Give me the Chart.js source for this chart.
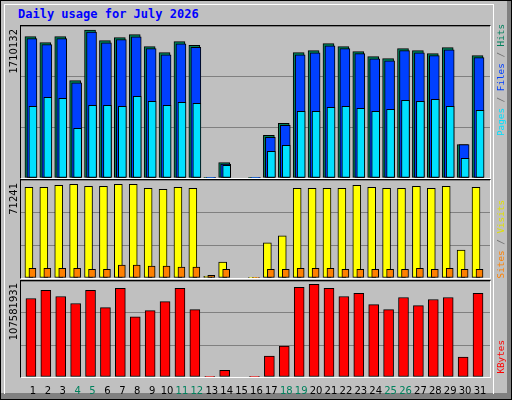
<!DOCTYPE html>
<html><head><meta charset="utf-8">
<script src="https://cdn.jsdelivr.net/npm/chart.js@4"></script>
<style>
html,body{margin:0;padding:0;background:#fff;}
#outer{position:absolute;left:0;top:0;width:512px;height:400px;background:#808080;box-sizing:border-box;border:1px solid #000;}
#face{position:absolute;left:1px;top:1px;width:506px;height:392px;background:#c0c0c0;}
#rim{position:absolute;left:4px;top:4px;width:490px;height:390px;box-sizing:border-box;border-left:1px solid #fff;border-top:1px solid #fff;border-right:1px solid #fff;}
.frame{position:absolute;box-sizing:border-box;border-top:1px solid #000;border-left:1px solid #000;border-bottom:1px solid #fff;border-right:1px solid #fff;pointer-events:none;}
.cv{position:absolute;}
.vt{position:absolute;writing-mode:vertical-rl;transform:rotate(180deg);white-space:nowrap;line-height:1;}
.lv{font-family:"DejaVu Sans";font-size:10px;color:#000;}
.rv{font-family:"DejaVu Sans Mono";font-size:9.3px;color:#707070;}
#title{position:absolute;left:18px;top:7px;font-family:"DejaVu Sans Mono";font-weight:bold;font-size:12px;color:#0000ff;}
</style></head>
<body>
<div id="outer"></div><div id="face"></div><div id="rim"></div>
<div id="title">Daily usage for July 2026</div>
<div class="cv" style="left:21px;top:26px;width:469px;height:152px"><canvas id="c1"></canvas></div>
<div class="cv" style="left:21px;top:180px;width:469px;height:98px"><canvas id="c2"></canvas></div>
<div class="cv" style="left:21px;top:281px;width:469px;height:115px"><canvas id="c3"></canvas></div>
<div class="frame" style="left:20px;top:25px;width:471px;height:154px"></div>
<div class="frame" style="left:20px;top:179px;width:471px;height:100px"></div>
<div class="frame" style="left:20px;top:280px;width:471px;height:98px"></div>
<div class="vt lv" style="left:9px;top:29px">1710132</div>
<div class="vt lv" style="left:9px;top:183px">71241</div>
<div class="vt lv" style="left:9px;top:283px">107581931</div>
<div class="vt rv" style="left:496px;top:24px"><span style="color:#00e0ff">Pages</span> / <span style="color:#0040ff">Files</span> / <span style="color:#00805c">Hits</span></div>
<div class="vt rv" style="left:496px;top:200px"><span style="color:#ff8000">Sites</span> / <span style="color:#e0e000">Visits</span></div>
<div class="vt rv" style="left:496px;top:340px"><span style="color:#ff0000">KBytes</span></div>
<script>
const days = [1,2,3,4,5,6,7,8,9,10,11,12,13,14,15,16,17,18,19,20,21,22,23,24,25,26,27,28,29,30,31];
const weekendDays = [4,5,11,12,18,19,25,26];
const hits = [1632700,1563400,1632700,1124300,1710132,1586500,1621200,1655800,1517200,1447800,1574900,1533300,8000,176800,0,8000,493400,632100,1447800,1471000,1551800,1517200,1459400,1401600,1378500,1494100,1471000,1436300,1505600,384800,1413200];
const files = [1610000,1540000,1610000,1100000,1686000,1563000,1598000,1632000,1494000,1424000,1551000,1510000,8000,161800,0,8000,470000,609000,1424000,1447000,1528000,1494000,1436000,1378000,1355000,1471000,1447000,1413000,1482000,384800,1390000];
const pages = [828500,932500,921000,574300,840000,840000,828500,944000,886300,840000,874700,863200,0,146700,0,0,308500,377900,770700,770700,817000,828500,805400,770700,793800,897800,886300,909400,828500,227600,782300];
const visits = [68930,68930,70470,71241,69700,69700,71241,71241,68170,67400,68930,68170,1300,12070,0,500,26670,32050,68170,68170,68170,68170,70470,68930,68170,68170,69700,68170,69700,21290,68930];
const sites = [7450,7450,7450,7450,6690,6690,9760,9760,8990,8990,8220,8220,2075,6690,0,300,6690,6690,7450,7450,7450,6690,6690,6690,6690,6690,7450,6690,7450,6690,6690];
const kbytes = [91160000,100540000,93500000,85300000,100540000,80600000,102900000,70000000,77100000,87600000,102900000,78250000,300000,7860000,0,300000,24300000,36000000,104100000,107581931,102900000,93500000,97000000,84100000,78250000,92300000,82900000,90000000,92300000,23100000,97000000];
const yMax1 = 1756000, yMax2 = 74545, yMax3 = 111454000;

const pxPerDay = 14.9;
function pts(vals, offPx){ return days.map((d,i)=>({x:d+offPx/pxPerDay, y:vals[i]})); }
function ds(vals, offPx, color, w, order){ return {data:pts(vals,offPx), backgroundColor:color, borderColor:'#000', borderWidth:1, borderSkipped:false, barThickness:w, grouped:false, order:order}; }
function opts(ymax, showX){
  return {responsive:true, maintainAspectRatio:false, animation:false,
    layout:{padding:0},
    plugins:{legend:{display:false}, tooltip:{enabled:false}},
    scales:{
      x:{type:'linear', offset:false, min:0.2, max:31.67, display:showX, grid:{display:false}, border:{display:false},
         afterBuildTicks(s){ s.ticks = days.map(d=>({value:d})); },
         afterFit(s){ s.height = showX ? 19 : 0; },
         ticks:{autoSkip:false, maxRotation:0, padding:0, font:{family:'DejaVu Sans', size:10},
           color:(c)=> weekendDays.includes(c.tick.value) ? '#00805c' : '#000',
           callback:(v)=>String(v)}},
      y:{min:0, max:ymax, display:true, ticks:{display:false}, afterBuildTicks(s){ s.ticks=[0,1,2,3].map(k=>({value:ymax*k/3})); },
         grid:{color:'#808080', drawTicks:false, lineWidth:1}, border:{display:false},
         afterFit(s){ s.width = 0; }}
    }};
}
new Chart(document.getElementById('c1'), {type:'bar', data:{datasets:[
  ds(hits,-2.5,'#00805c',11,2), ds(files,-1,'#0040ff',10,1), ds(pages,0,'#00e0ff',8,0)]}, options:opts(yMax1,false)});
new Chart(document.getElementById('c2'), {type:'bar', data:{datasets:[
  ds(visits,-4,'#ffff00',8,1), ds(sites,-0.5,'#ff8000',7,0)]}, options:opts(yMax2,false)});
new Chart(document.getElementById('c3'), {type:'bar', data:{datasets:[
  ds(kbytes,-2,'#ff0000',10,0)]}, options:opts(yMax3,true)});
</script>
</body></html>
